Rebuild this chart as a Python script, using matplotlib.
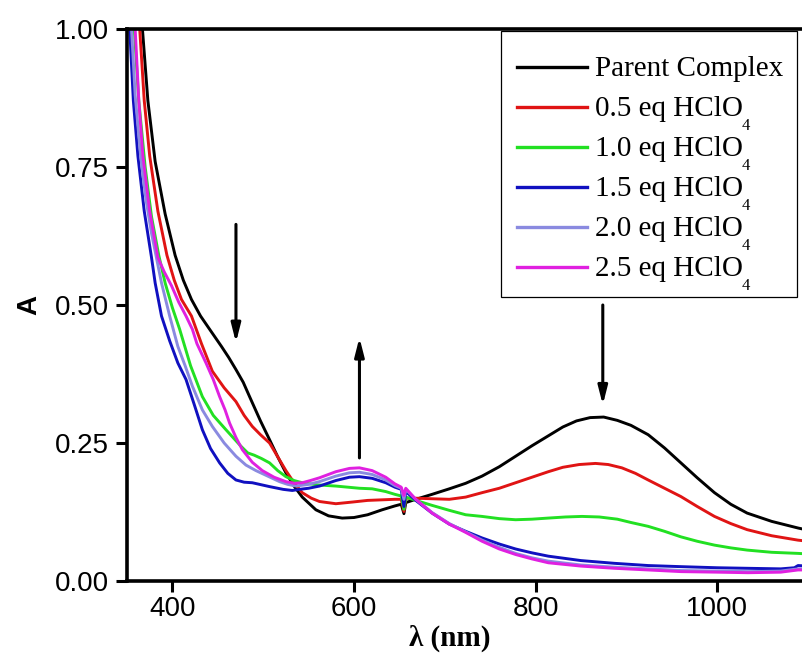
import matplotlib
matplotlib.use("Agg")
import matplotlib.pyplot as plt
from matplotlib.lines import Line2D
from matplotlib.patches import Rectangle
from matplotlib.transforms import IdentityTransform

OUT = "out.png"
W, H = 803, 653

# absorbance spectra, one wavelength list per trace (nm, A)
parent_wl = [358, 367, 373, 381, 392, 403, 412, 421, 431, 441, 454, 462, 470, 478, 485, 497, 507,
             516, 525, 534, 543, 558, 572, 587, 600, 615, 631, 645, 652, 655, 657, 668, 686, 705,
             723, 741, 760, 778, 796, 814, 830, 845, 860, 875, 890, 905, 924, 942, 960, 978, 997,
             1015, 1033, 1060, 1089, 1100]
parent_A = [1.15, 1.00, 0.87, 0.76, 0.665, 0.59, 0.545, 0.51, 0.48, 0.456, 0.425, 0.405, 0.383,
            0.36, 0.334, 0.29, 0.256, 0.225, 0.196, 0.172, 0.152, 0.129, 0.118, 0.114, 0.115,
            0.120, 0.129, 0.136, 0.139, 0.122, 0.142, 0.148, 0.157, 0.167, 0.177, 0.190, 0.207,
            0.226, 0.245, 0.263, 0.279, 0.290, 0.296, 0.297, 0.291, 0.282, 0.265, 0.241, 0.214,
            0.187, 0.160, 0.139, 0.123, 0.108, 0.096, 0.092]

eq05_wl = [355, 364, 369, 375, 384, 394, 402, 410, 421, 432, 444, 457, 470, 479, 488, 497, 507,
           516, 525, 534, 543, 553, 562, 580, 598, 615, 630, 645, 652, 655, 657, 668, 686, 705,
           723, 741, 760, 778, 796, 814, 830, 848, 866, 880, 895, 910, 924, 942, 960, 978, 997,
           1015, 1033, 1060, 1089, 1100]
eq05_A = [1.15, 1.00, 0.87, 0.77, 0.67, 0.59, 0.545, 0.51, 0.48, 0.43, 0.38, 0.35, 0.325, 0.30,
          0.28, 0.265, 0.25, 0.225, 0.20, 0.178, 0.16, 0.15, 0.144, 0.140, 0.143, 0.146, 0.147,
          0.148, 0.148, 0.126, 0.150, 0.150, 0.149, 0.148, 0.152, 0.160, 0.168, 0.178, 0.188,
          0.198, 0.206, 0.211, 0.213, 0.211, 0.205, 0.195, 0.183, 0.168, 0.153, 0.135, 0.117,
          0.104, 0.093, 0.082, 0.074, 0.072]

eq10_wl = [352, 358, 363, 370, 377, 385, 392, 400, 408, 420, 433, 445, 459, 475, 483, 490, 498,
           507, 516, 525, 534, 543, 560, 580, 606, 620, 635, 645, 652, 655, 657, 668, 686, 705,
           723, 741, 760, 778, 796, 814, 833, 851, 870, 890, 905, 924, 942, 960, 978, 997, 1015,
           1033, 1060, 1089, 1100]
eq10_A = [1.15, 1.00, 0.87, 0.75, 0.66, 0.59, 0.54, 0.495, 0.456, 0.39, 0.334, 0.30, 0.274, 0.245,
          0.232, 0.228, 0.222, 0.214, 0.20, 0.189, 0.182, 0.178, 0.174, 0.172, 0.168, 0.167, 0.162,
          0.157, 0.154, 0.130, 0.152, 0.146, 0.137, 0.128, 0.120, 0.117, 0.113, 0.111, 0.112,
          0.114, 0.116, 0.117, 0.116, 0.112, 0.106, 0.099, 0.090, 0.080, 0.072, 0.065, 0.060,
          0.056, 0.052, 0.050, 0.049]

eq15_wl = [349, 353, 357, 362, 369, 377, 381, 388, 397, 406, 415, 424, 433, 442, 452, 461, 470,
           479, 488, 507, 522, 532, 540, 550, 562, 580, 595, 606, 620, 635, 645, 652, 655, 657,
           668, 686, 705, 723, 741, 760, 778, 796, 814, 850, 887, 924, 960, 1000, 1034, 1070,
           1085, 1089, 1100]
eq15_A = [1.15, 1.00, 0.87, 0.77, 0.67, 0.586, 0.54, 0.48, 0.435, 0.395, 0.365, 0.32, 0.274, 0.24,
          0.214, 0.195, 0.183, 0.179, 0.178, 0.171, 0.166, 0.164, 0.166, 0.168, 0.172, 0.182,
          0.188, 0.189, 0.186, 0.178, 0.170, 0.166, 0.135, 0.162, 0.146, 0.123, 0.103, 0.090,
          0.078, 0.067, 0.058, 0.051, 0.045, 0.037, 0.032, 0.028, 0.026, 0.024, 0.023, 0.022,
          0.024, 0.028, 0.027]

eq20_wl = [351, 355, 359, 365, 371, 377, 388, 397, 406, 414, 422, 433, 444, 457, 470, 481, 492,
           505, 518, 527, 536, 550, 562, 580, 595, 606, 620, 635, 645, 652, 655, 657, 668, 686,
           705, 723, 741, 760, 778, 796, 814, 850, 887, 924, 960, 1000, 1034, 1070, 1089, 1100]
eq20_A = [1.15, 1.00, 0.88, 0.77, 0.69, 0.63, 0.54, 0.48, 0.425, 0.39, 0.353, 0.31, 0.28, 0.25,
          0.226, 0.21, 0.20, 0.19, 0.18, 0.175, 0.172, 0.175, 0.180, 0.190, 0.196, 0.197, 0.193,
          0.183, 0.173, 0.168, 0.148, 0.166, 0.148, 0.124, 0.104, 0.089, 0.074, 0.061, 0.050,
          0.042, 0.036, 0.029, 0.025, 0.022, 0.019, 0.018, 0.017, 0.018, 0.022, 0.022]

eq25_wl = [354, 359, 363, 367.5, 375, 384, 391, 399, 407, 415, 422, 427, 437, 445, 452, 458, 463,
           470, 477, 488, 499, 512, 525, 534, 543, 552, 562, 580, 595, 606, 620, 635, 645, 652,
           655, 657, 668, 686, 705, 723, 741, 760, 778, 796, 814, 850, 887, 924, 960, 1000, 1034,
           1070, 1089, 1100]
eq25_A = [1.15, 1.00, 0.87, 0.77, 0.67, 0.586, 0.56, 0.535, 0.505, 0.48, 0.456, 0.43, 0.395, 0.365,
          0.334, 0.31, 0.286, 0.26, 0.238, 0.215, 0.20, 0.188, 0.18, 0.177, 0.178, 0.182, 0.187,
          0.198, 0.204, 0.205, 0.200, 0.188, 0.176, 0.170, 0.155, 0.168, 0.148, 0.123, 0.103,
          0.088, 0.072, 0.058, 0.048, 0.040, 0.033, 0.027, 0.023, 0.020, 0.017, 0.016, 0.015,
          0.016, 0.020, 0.020]

labels = ["Parent Complex", "0.5 eq HClO", "1.0 eq HClO", "1.5 eq HClO", "2.0 eq HClO",
          "2.5 eq HClO"]
subscripts = ["", "4", "4", "4", "4", "4"]
colors = ["#000000", "#e01414", "#22e022", "#1010c0", "#8a8ae0", "#e020e0"]

# (wavelength, A_from, A_to) for the trend arrows
arrows = [(470, 0.646, 0.432), (606, 0.223, 0.441), (874, 0.500, 0.319)]

plt.rcParams["font.family"] = "Liberation Sans"

fig = plt.figure(figsize=(W / 100, H / 100), dpi=100)
ax = fig.add_axes([127 / W, 1 - 581 / H, 681 / W, 552 / H])

series = [(parent_wl, parent_A), (eq05_wl, eq05_A), (eq10_wl, eq10_A),
          (eq15_wl, eq15_A), (eq20_wl, eq20_A), (eq25_wl, eq25_A)]
for (wl, a), c in zip(series, colors):
    ax.plot(wl, a, color=c, lw=2.1, solid_joinstyle="round")

for x, y0, y1 in arrows:
    ax.annotate("", xy=(x, y1), xytext=(x, y0),
                arrowprops=dict(arrowstyle="-|>,head_length=1.1,head_width=0.28",
                                mutation_scale=10, color="k", lw=2.2,
                                shrinkA=0, shrinkB=0))

ax.set_xlim(350, 1100)
ax.set_ylim(0, 1.0)
ax.set_xticks([400, 600, 800, 1000])
ax.set_yticks([0, 0.25, 0.5, 0.75, 1.0])
ax.set_yticklabels(["0.00", "0.25", "0.50", "0.75", "1.00"])
ax.tick_params(direction="out", length=8, width=2.2, labelsize=20, pad=3)
ax.tick_params(axis="y", pad=5)
for s in ax.spines.values():
    s.set_linewidth(2.6)

ax.set_ylabel("A", fontsize=20, fontweight="bold")
ax.yaxis.set_label_coords(-0.124, 0.5)
ax.set_xlabel("λ (nm)", fontsize=21, fontweight="bold", family="Liberation Serif",
              va="center")
ax.xaxis.set_label_coords(0.474, -0.104)

# legend box drawn in pixel coordinates (y measured from the top edge)
pix = IdentityTransform()
fig.patches.append(Rectangle((501, H - 297), 296, 266, transform=pix, fill=False,
                             edgecolor="black", lw=0.9, zorder=5))
renderer = fig.canvas.get_renderer()
for i, (lab, sub, c) in enumerate(zip(labels, subscripts, colors)):
    yc = 67 + i * 40
    fig.lines.append(Line2D([517, 587], [H - yc, H - yc], transform=pix, color=c, lw=2.4,
                            zorder=6))
    base = H - (yc + 8.5)
    t = fig.text(595, base, lab, transform=pix, fontsize=21, family="Liberation Serif",
                 va="baseline", ha="left")
    if sub:
        bb = t.get_window_extent(renderer=renderer)
        fig.text(bb.x1 - 1, base - 3, sub, transform=pix, fontsize=12,
                 family="Liberation Serif", va="top", ha="left")

fig.savefig(OUT, dpi=100)
